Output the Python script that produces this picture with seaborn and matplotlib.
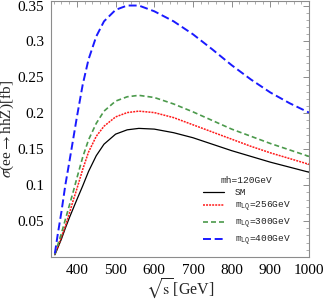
import matplotlib
matplotlib.use("Agg")
import matplotlib.pyplot as plt
from matplotlib.font_manager import FontProperties
from matplotlib.ticker import MultipleLocator, FixedLocator, FuncFormatter
import seaborn as sns
import pandas as pd

# ---- data ----
sqrt_s = [343, 350, 360, 370, 380, 390, 400, 415, 430, 450, 470, 500, 530,
          560, 600, 650, 700, 750, 800, 850, 900, 950, 1000]
sigma_sm = [0.003, 0.012, 0.025, 0.040, 0.054, 0.067, 0.080, 0.099, 0.119,
            0.141, 0.157, 0.171, 0.177, 0.179, 0.178, 0.173, 0.166, 0.157,
            0.148, 0.140, 0.132, 0.125, 0.118]
sigma_256 = [0.004, 0.013, 0.028, 0.043, 0.060, 0.078, 0.095, 0.122, 0.146,
             0.168, 0.182, 0.195, 0.201, 0.203, 0.201, 0.194, 0.184, 0.174,
             0.164, 0.154, 0.145, 0.137, 0.129]
sigma_300 = [0.004, 0.016, 0.033, 0.052, 0.071, 0.090, 0.110, 0.139, 0.163,
             0.186, 0.203, 0.217, 0.223, 0.225, 0.222, 0.213, 0.202, 0.190,
             0.178, 0.168, 0.158, 0.149, 0.140]
sigma_400 = [0.005, 0.030, 0.063, 0.100, 0.131, 0.163, 0.195, 0.240, 0.275,
             0.307, 0.328, 0.344, 0.350, 0.350, 0.342, 0.328, 0.310, 0.289,
             0.267, 0.247, 0.229, 0.214, 0.201]
series_labels = ["SM", r"m$_{\rm LQ}$=256GeV", r"m$_{\rm LQ}$=300GeV",
                 r"m$_{\rm LQ}$=400GeV"]
legend_title = "mh=120GeV"
x_ticks = [400, 500, 600, 700, 800, 900, 1000]
y_ticks = [0.05, 0.1, 0.15, 0.2, 0.25, 0.3, 0.35]

sns.set_style("white")
plt.rcParams["font.family"] = ["Liberation Serif", "DejaVu Serif"]
plt.rcParams["mathtext.fontset"] = "custom"
plt.rcParams["mathtext.rm"] = "Liberation Mono"
plt.rcParams["mathtext.it"] = "Liberation Mono:italic"
plt.rcParams["mathtext.bf"] = "Liberation Mono:bold"

fig = plt.figure(figsize=(3.24, 3.0), dpi=100)
ax = fig.add_axes([51 / 324, 43 / 300, 258 / 324, 256.5 / 300])

styles = [
    dict(color="black", lw=0.9, ls="-"),
    dict(color="#ff1a1a", lw=1.1, ls=(0, (1.3, 0.7))),
    dict(color="#4c9a4c", lw=1.2, ls=(0, (3.0, 1.8))),
    dict(color="#1a1aff", lw=1.4, ls=(0, (4.1, 1.9))),
]
handles = []
for ys, st, lab in zip([sigma_sm, sigma_256, sigma_300, sigma_400], styles,
                       series_labels):
    df = pd.DataFrame({"s": sqrt_s, "sigma": ys})
    sns.lineplot(data=df, x="s", y="sigma", ax=ax, color=st["color"],
                 linewidth=st["lw"], linestyle=st["ls"], label=lab)
    handles.append(ax.lines[-1])

ax.set_xlim(333, 1000)
ax.set_ylim(0, 0.357)

ax.xaxis.set_major_locator(FixedLocator(x_ticks))
ax.xaxis.set_minor_locator(MultipleLocator(20))
ax.yaxis.set_major_locator(FixedLocator(y_ticks))
ax.yaxis.set_minor_locator(MultipleLocator(0.01))
ax.yaxis.set_major_formatter(FuncFormatter(lambda v, p: ("%g" % round(v, 3))))
ax.xaxis.set_major_formatter(FuncFormatter(lambda v, p: "%d" % v))

for sp in ax.spines.values():
    sp.set_color("#8c8c8c")
    sp.set_linewidth(0.8)
ax.tick_params(which="both", direction="in", top=True, right=True,
               color="#8c8c8c", labelsize=11, labelcolor="black")
ax.tick_params(which="major", length=4, width=0.7, pad=5)
ax.tick_params(which="minor", length=2, width=0.5)

ax.set_xlabel(r"$\sqrt{\mathrm{s}}\,$[GeV]", fontsize=11.5, labelpad=0,
              math_fontfamily="stix")
ax.set_ylabel(r"$\sigma$(ee$\rightarrow$hhZ)[fb]", fontsize=11, labelpad=1,
              math_fontfamily="stix")

legprop = FontProperties(family="Liberation Mono", size=6.8)
leg = ax.legend(handles=handles, labels=series_labels, title=legend_title,
                loc="upper left", bbox_to_anchor=(0.565, 0.34), frameon=False,
                prop=legprop, title_fontproperties=legprop,
                handlelength=2.2, handletextpad=1.1, labelspacing=0.3,
                borderpad=0.2)
for t in leg.get_texts():
    t.set_color("#222222")
leg.get_title().set_color("#222222")

fig.savefig("out.png", dpi=100)
